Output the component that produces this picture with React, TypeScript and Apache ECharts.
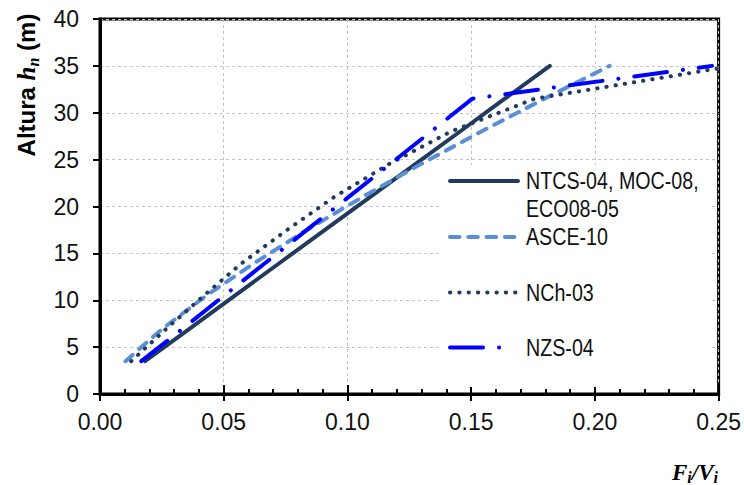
import React, { useEffect, useRef } from "react";
import * as echarts from "echarts";

const heights = [3.5, 7, 10.5, 14, 17.5, 21, 24.5, 28, 31.5, 35];
const ntcs = [0.0182, 0.0364, 0.0545, 0.0727, 0.0909, 0.1091, 0.1273, 0.1455, 0.1636, 0.1818];
const asce = [0.0103, 0.0254, 0.043, 0.0626, 0.0836, 0.106, 0.1295, 0.1541, 0.1796, 0.2059];
const nch = [0.0126, 0.027, 0.042, 0.0575, 0.0756, 0.0946, 0.1166, 0.1418, 0.1757, 0.256];
const nzs = [0.0167, 0.0335, 0.0502, 0.0669, 0.0836, 0.1004, 0.1171, 0.1338, 0.1505, 0.2473];
const seriesNames = ["NTCS-04, MOC-08,\nECO08-05", "ASCE-10", "NCh-03", "NZS-04"];
const xTicks = { min: 0, max: 0.25, interval: 0.05 };
const yTicks = { min: 0, max: 40, interval: 5 };

const NAVY = "#213B5C";
const LIGHT = "#5A8FD5";
const BLUE = "#0000FF";
const SANS = "'Liberation Sans', Arial, sans-serif";
const SERIF = "'Liberation Serif', 'Times New Roman', serif";

const pair = (xs: number[]) => xs.map((x, i) => [x, heights[i]]);

const styles = [
  { color: NAVY, width: 4, type: "solid" as any },
  { color: LIGHT, width: 4, type: [9.5, 8.8] },
  { color: NAVY, width: 4, type: [0.3, 9] },
  { color: BLUE, width: 4, type: [33, 16, 0.1, 16] },
];
const legendDash = [undefined, [9.5, 8.8], [0.3, 9], [33, 16, 0.1, 30]];
const legendY = [181, 237, 292.5, 347.5];

export default function App() {
  const ref = useRef<HTMLDivElement>(null);
  useEffect(() => {
    if (!ref.current) return;
    const chart = echarts.init(ref.current, undefined, { renderer: "svg" });
    const data = [ntcs, asce, nch, nzs];
    const gridLine = { show: true, lineStyle: { color: "#C4C4C4", width: 1, type: [3, 3] as any } };
    const legendGraphics: any[] = [
      { type: "rect", shape: { x: 442, y: 165, width: 267, height: 222 }, style: { fill: "#fff" }, z: 5 },
    ];
    styles.forEach((s, i) => {
      legendGraphics.push({
        type: "line",
        shape: { x1: 450, y1: legendY[i], x2: 518, y2: legendY[i] },
        style: { stroke: s.color, lineWidth: s.width, lineCap: "round", lineDash: legendDash[i] },
        z: 6,
      });
      legendGraphics.push({
        type: "text",
        x: 526,
        y: i === 0 ? legendY[i] - 14 : legendY[i],
        scaleX: 0.82,
        style: {
          text: seriesNames[i],
          fontFamily: SANS,
          fontSize: 24,
          lineHeight: 28,
          fill: "#111",
          align: "left",
          verticalAlign: i === 0 ? "top" : "middle",
        },
        z: 6,
      });
    });
    chart.setOption({
      animation: false,
      grid: { left: 100, top: 19, right: 25, bottom: 91, show: true, borderColor: "#000", borderWidth: 3 },
      xAxis: [
        {
          type: "value",
          ...xTicks,
          axisLine: { show: true, onZero: false, lineStyle: { color: "#000", width: 3 } },
          axisTick: { show: true, inside: false, length: 7, lineStyle: { color: "#000", width: 2 } },
          axisLabel: {
            margin: 16,
            fontSize: 23,
            fontFamily: SANS,
            color: "#111",
            formatter: (v: number) => v.toFixed(2),
          },
          splitLine: gridLine,
        },
        {
          type: "value",
          position: "bottom",
          ...xTicks,
          axisLine: { show: false },
          axisTick: { show: true, inside: true, length: 9, lineStyle: { color: "#000", width: 2 } },
          minorTick: { show: true, splitNumber: 5, length: 5, lineStyle: { color: "#000", width: 2 } },
          axisLabel: { show: false },
          splitLine: { show: false },
        },
      ],
      yAxis: {
        type: "value",
        ...yTicks,
        axisLine: { show: true, onZero: false, lineStyle: { color: "#000", width: 3 } },
        axisTick: { show: true, inside: false, length: 7, lineStyle: { color: "#000", width: 2 } },
        axisLabel: { margin: 21, fontSize: 23, fontFamily: SANS, color: "#111" },
        splitLine: gridLine,
      },
      series: data.map((d, i) => ({
        name: seriesNames[i],
        type: "line",
        xAxisIndex: 0,
        data: pair(d),
        symbol: "none",
        clip: true,
        lineStyle: { color: styles[i].color, width: styles[i].width, type: styles[i].type, cap: "round", join: "round" },
        z: 2 + i,
      })),
      graphic: [
        ...legendGraphics,
        {
          type: "text",
          x: 26,
          y: 85,
          rotation: Math.PI / 2,
          style: {
            text: "{b|Altura }{h|h}{s|n}{b| (m)}",
            align: "center",
            verticalAlign: "middle",
            fill: "#000",
            rich: {
              b: { fontFamily: SANS, fontWeight: "bold", fontSize: 24, lineHeight: 30, fill: "#000" },
              h: { fontFamily: SERIF, fontStyle: "italic", fontWeight: "bold", fontSize: 25, lineHeight: 30, fill: "#000" },
              s: { fontFamily: SERIF, fontStyle: "italic", fontWeight: "bold", fontSize: 16, lineHeight: 16, verticalAlign: "bottom", fill: "#000" },
            },
          },
          z: 10,
        },
        {
          type: "text",
          x: 695,
          y: 472,
          style: {
            text: "{f|F}{s|i}{f|/V}{s|i}",
            align: "center",
            verticalAlign: "middle",
            fill: "#000",
            rich: {
              f: { fontFamily: SERIF, fontStyle: "italic", fontWeight: "bold", fontSize: 23, lineHeight: 26, fill: "#000" },
              s: { fontFamily: SERIF, fontStyle: "italic", fontWeight: "bold", fontSize: 16, lineHeight: 16, verticalAlign: "bottom", fill: "#000" },
            },
          },
          z: 10,
        },
      ],
    });
    return () => chart.dispose();
  }, []);
  return <div ref={ref} style={{ position: "fixed", left: 0, top: 0, width: 744, height: 485, background: "#fff" }} />;
}
